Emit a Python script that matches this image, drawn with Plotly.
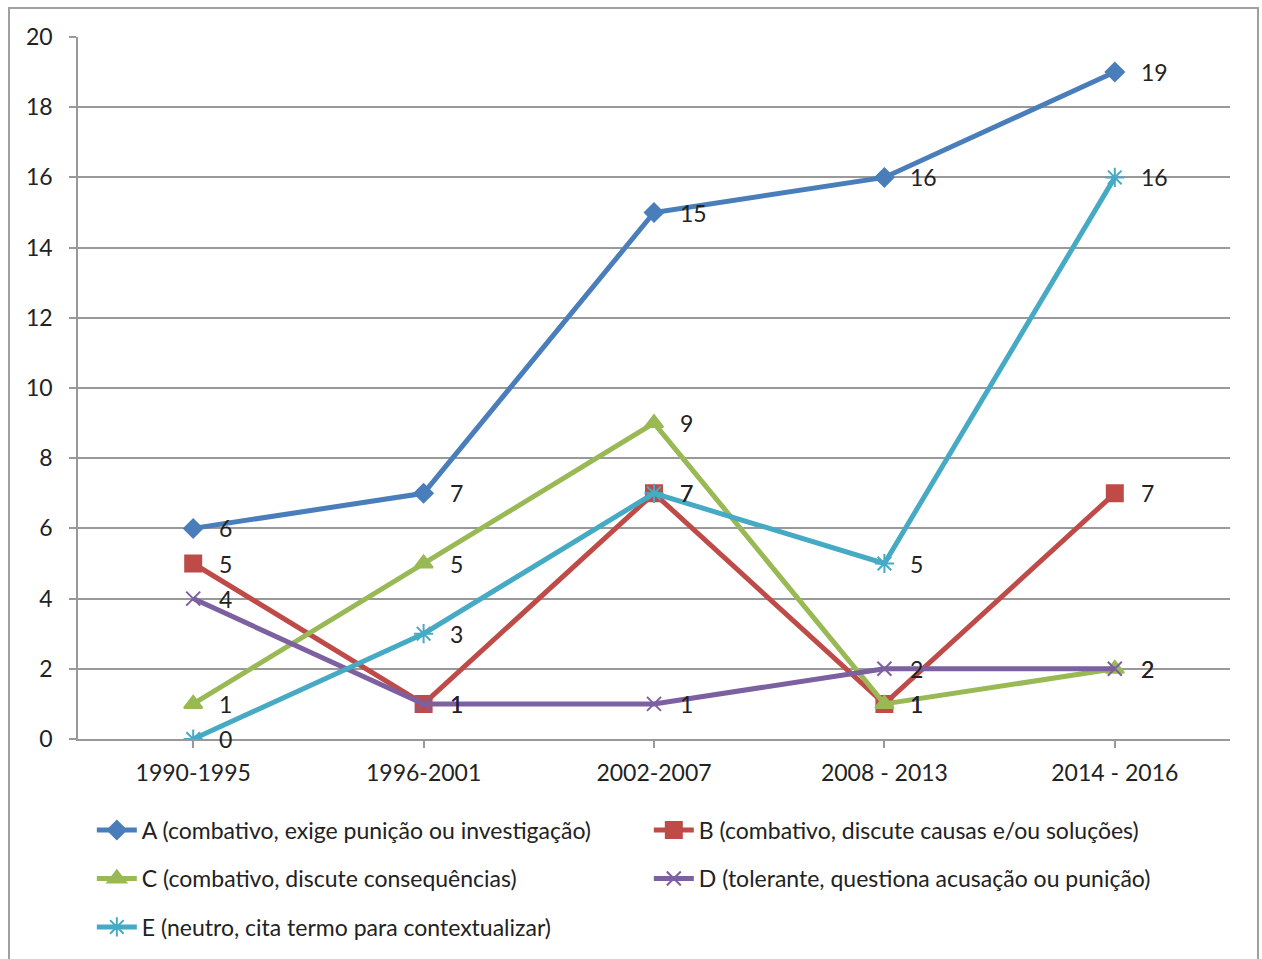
import plotly.graph_objects as go

categories = ["1990-1995", "1996-2001", "2002-2007", "2008 - 2013", "2014 - 2016"]
names = [
    "A (combativo, exige punição ou investigação)",
    "B (combativo, discute causas e/ou soluções)",
    "C (combativo, discute consequências)",
    "D (tolerante, questiona acusação ou punição)",
    "E (neutro, cita termo para contextualizar)",
]
series_a = [6, 7, 15, 16, 19]
series_b = [5, 1, 7, 1, 7]
series_c = [1, 5, 9, 1, 2]
series_d = [4, 1, 1, 2, 2]
series_e = [0, 3, 7, 5, 16]
y_ticks = [0, 2, 4, 6, 8, 10, 12, 14, 16, 18, 20]

colors = ["#4A7EBB", "#BE4B48", "#98B954", "#7D60A0", "#46AAC5"]
symbols = ["diamond", "square", "triangle-up", "x-thin-open", "asterisk-open"]
sizes = [14, 16, 16, 14, 16]
legends = ["legend", "legend", "legend2", "legend2", "legend3"]
all_series = [series_a, series_b, series_c, series_d, series_e]

FONT = "Lato"
FS = 23

fig = go.Figure()
for i, vals in enumerate(all_series):
    fig.add_trace(go.Scatter(
        x=list(range(len(categories))), y=vals, name=names[i],
        mode="lines+markers",
        line=dict(color=colors[i], width=5),
        marker=dict(symbol=symbols[i], size=sizes[i], color=colors[i],
                    line=dict(color=colors[i], width=2)),
        legend=legends[i],
    ))

annotations = []
for i, vals in enumerate(all_series):
    for j, v in enumerate(vals):
        annotations.append(dict(x=j, y=v, xref="x", yref="y", text=str(v),
                                showarrow=False, xanchor="left", yanchor="middle",
                                xshift=24, font=dict(family=FONT, size=FS, color="#222")))

leg_common = dict(orientation="h", xanchor="left", yanchor="middle",
                  font=dict(family=FONT, size=FS, color="#222"),
                  entrywidth=502, entrywidthmode="pixels", itemwidth=40,
                  bgcolor="rgba(0,0,0,0)", traceorder="normal")

fig.update_layout(
    width=1262, height=959,
    margin=dict(l=78, r=32, t=37, b=219),
    paper_bgcolor="white", plot_bgcolor="white",
    font=dict(family=FONT, size=FS, color="#222"),
    showlegend=True,
    legend=dict(x=0.012, y=-0.128, **leg_common),
    legend2=dict(x=0.012, y=-0.197, **leg_common),
    legend3=dict(x=0.012, y=-0.266, **leg_common),
    annotations=annotations,
    xaxis=dict(range=[-0.5, len(categories) - 0.5], tickmode="array",
               tickvals=list(range(len(categories))), ticktext=categories,
               tickson="boundaries", ticks="outside", ticklen=7, tickwidth=1.5,
               tickcolor="#999", showline=True, linecolor="#999", linewidth=1.5,
               showgrid=False, zeroline=False, fixedrange=True, ticklabelstandoff=6,
               tickfont=dict(family=FONT, size=FS, color="#222")),
    yaxis=dict(range=[0, 20], tickvals=y_ticks, ticks="outside", ticklen=7,
               tickwidth=1.5, tickcolor="#999", showline=True, linecolor="#999",
               linewidth=1.5, showgrid=True, gridcolor="#999", gridwidth=1.5,
               zeroline=False, ticklabelstandoff=12,
               tickfont=dict(family=FONT, size=FS, color="#222")),
    shapes=[dict(type="rect", xref="paper", yref="paper",
                 x0=-0.0599, x1=1.0243, y0=-0.35, y1=1.0413,
                 line=dict(color="#A0A0A0", width=2), layer="below")],
)

fig.write_html("out.html")
